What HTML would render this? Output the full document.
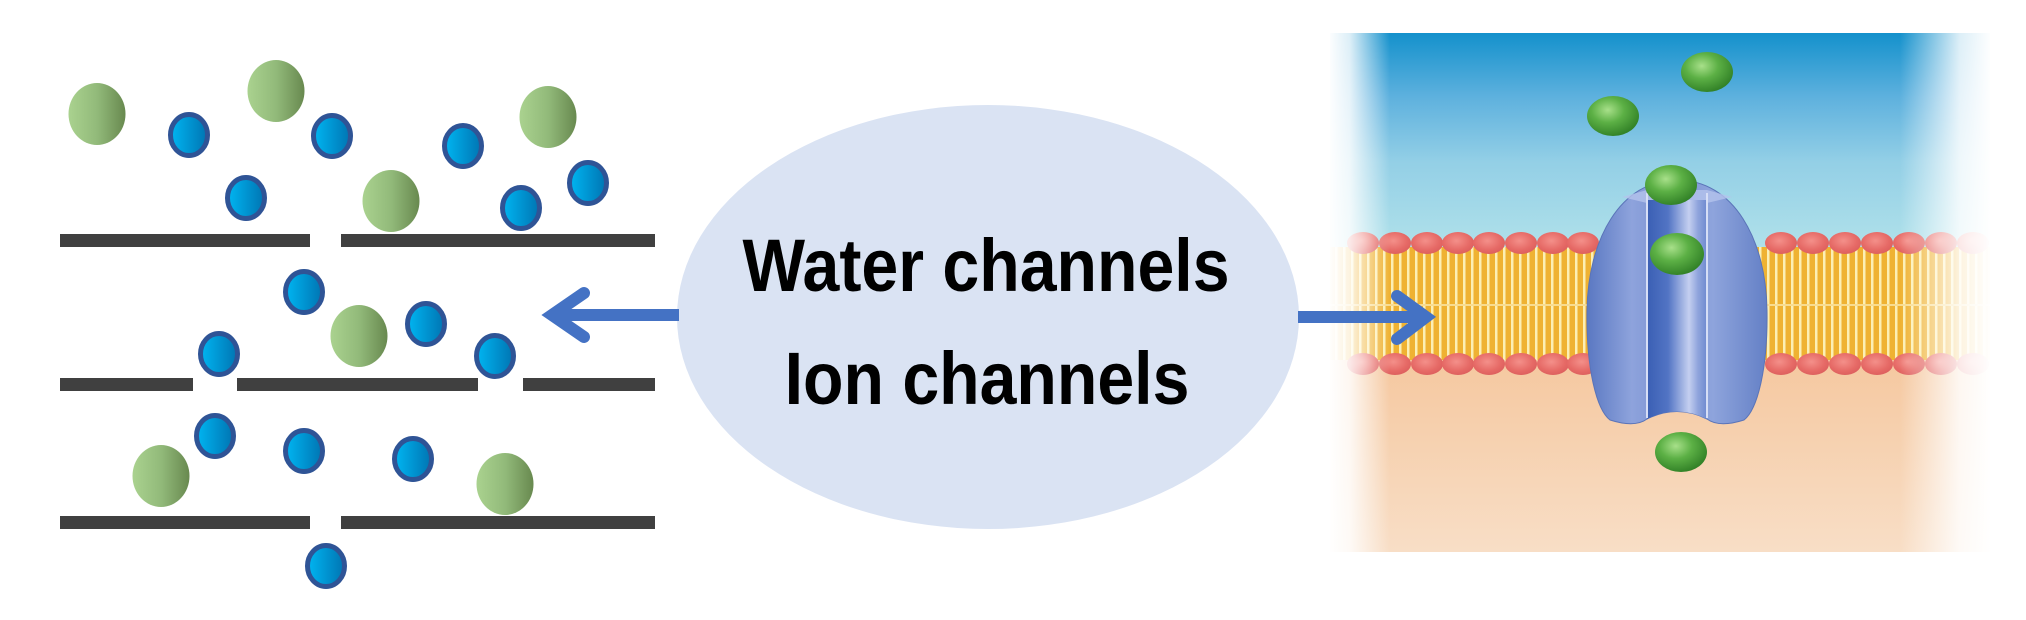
<!DOCTYPE html>
<html>
<head>
<meta charset="utf-8">
<style>
html,body{margin:0;padding:0;background:#fff;}
body{width:2026px;height:620px;overflow:hidden;}
svg{display:block;}
</style>
</head>
<body>
<svg width="2026" height="620" viewBox="0 0 2026 620" xmlns="http://www.w3.org/2000/svg">
<defs>
  <linearGradient id="gball" x1="0" y1="0" x2="1" y2="0">
    <stop offset="0" stop-color="#aad28f"/>
    <stop offset="0.5" stop-color="#92ba7a"/>
    <stop offset="1" stop-color="#68894f"/>
  </linearGradient>
  <linearGradient id="ion" x1="0" y1="0" x2="1" y2="0">
    <stop offset="0" stop-color="#00b6f2"/>
    <stop offset="1" stop-color="#0074b2"/>
  </linearGradient>
  <linearGradient id="sky" x1="0" y1="0" x2="0" y2="1">
    <stop offset="0" stop-color="#1491cc"/>
    <stop offset="0.3" stop-color="#5eb1de"/>
    <stop offset="0.6" stop-color="#93cfe6"/>
    <stop offset="1" stop-color="#b0e1ea"/>
  </linearGradient>
  <linearGradient id="peach" x1="0" y1="0" x2="0" y2="1">
    <stop offset="0" stop-color="#f5c8a0"/>
    <stop offset="1" stop-color="#f8dec6"/>
  </linearGradient>
  <radialGradient id="head" cx="0.45" cy="0.4" r="0.7">
    <stop offset="0" stop-color="#f4908a"/>
    <stop offset="0.6" stop-color="#e66a66"/>
    <stop offset="1" stop-color="#d85a5a"/>
  </radialGradient>
  <radialGradient id="rball" cx="0.4" cy="0.35" r="0.7">
    <stop offset="0" stop-color="#a8e08a"/>
    <stop offset="0.45" stop-color="#5cb045"/>
    <stop offset="1" stop-color="#2e7d24"/>
  </radialGradient>
  <linearGradient id="prot" x1="0" y1="0" x2="1" y2="0">
    <stop offset="0" stop-color="#5a78c2"/>
    <stop offset="0.25" stop-color="#8ea3dc"/>
    <stop offset="0.45" stop-color="#7890d2"/>
    <stop offset="0.7" stop-color="#8ea4dc"/>
    <stop offset="1" stop-color="#6480c6"/>
  </linearGradient>
  <linearGradient id="pore" x1="0" y1="0" x2="1" y2="0">
    <stop offset="0" stop-color="#3a5fb4"/>
    <stop offset="0.35" stop-color="#5274c4"/>
    <stop offset="0.7" stop-color="#c4cff0"/>
    <stop offset="0.85" stop-color="#8fa4dc"/>
    <stop offset="1" stop-color="#6f8ad0"/>
  </linearGradient>
  <linearGradient id="fadeL" x1="0" y1="0" x2="1" y2="0">
    <stop offset="0" stop-color="#fff" stop-opacity="1"/>
    <stop offset="0.35" stop-color="#fff" stop-opacity="0.85"/>
    <stop offset="1" stop-color="#fff" stop-opacity="0"/>
  </linearGradient>
  <linearGradient id="fadeR" x1="0" y1="0" x2="1" y2="0">
    <stop offset="0" stop-color="#fff" stop-opacity="0"/>
    <stop offset="0.65" stop-color="#fff" stop-opacity="0.85"/>
    <stop offset="1" stop-color="#fff" stop-opacity="1"/>
  </linearGradient>
  <pattern id="tails" x="1330" y="0" width="8" height="620" patternUnits="userSpaceOnUse">
    <rect x="0" y="0" width="8" height="620" fill="#efb232"/>
    <rect x="5" y="0" width="2.5" height="620" fill="#fcefb4"/>
  </pattern>
</defs>

<!-- LEFT PANEL: bars -->
<g fill="#404040">
  <rect x="60" y="234" width="250" height="13"/>
  <rect x="341" y="234" width="314" height="13"/>
  <rect x="60" y="378" width="133" height="13"/>
  <rect x="237" y="378" width="241" height="13"/>
  <rect x="523" y="378" width="132" height="13"/>
  <rect x="60" y="516" width="250" height="13"/>
  <rect x="341" y="516" width="314" height="13"/>
</g>

<!-- green balls -->
<g fill="url(#gball)">
  <ellipse cx="97" cy="114" rx="28.5" ry="31"/>
  <ellipse cx="276" cy="91" rx="28.5" ry="31"/>
  <ellipse cx="548" cy="117" rx="28.5" ry="31"/>
  <ellipse cx="391" cy="201" rx="28.5" ry="31"/>
  <ellipse cx="359" cy="336" rx="28.5" ry="31"/>
  <ellipse cx="161" cy="476" rx="28.5" ry="31"/>
  <ellipse cx="505" cy="484" rx="28.5" ry="31"/>
</g>

<!-- ions -->
<g fill="url(#ion)" stroke="#2f5496" stroke-width="5">
  <ellipse cx="189" cy="135" rx="18.5" ry="20.5"/>
  <ellipse cx="332" cy="136" rx="18.5" ry="20.5"/>
  <ellipse cx="246" cy="198" rx="18.5" ry="20.5"/>
  <ellipse cx="463" cy="146" rx="18.5" ry="20.5"/>
  <ellipse cx="521" cy="208" rx="18.5" ry="20.5"/>
  <ellipse cx="588" cy="183" rx="18.5" ry="20.5"/>
  <ellipse cx="304" cy="292" rx="18.5" ry="20.5"/>
  <ellipse cx="426" cy="324" rx="18.5" ry="20.5"/>
  <ellipse cx="219" cy="354" rx="18.5" ry="20.5"/>
  <ellipse cx="495" cy="356" rx="18.5" ry="20.5"/>
  <ellipse cx="215" cy="436" rx="18.5" ry="20.5"/>
  <ellipse cx="304" cy="451" rx="18.5" ry="20.5"/>
  <ellipse cx="413" cy="459" rx="18.5" ry="20.5"/>
  <ellipse cx="326" cy="566" rx="18.5" ry="20.5"/>
</g>

<!-- CENTER ELLIPSE -->
<ellipse cx="988" cy="317" rx="311" ry="212" fill="#dae3f3"/>
<g font-family="'Liberation Sans', Arial, sans-serif" font-weight="bold" font-size="74" fill="#000" text-anchor="middle">
  <text transform="translate(986 291) scale(0.895 1)">Water channels</text>
  <text transform="translate(987 404) scale(0.895 1)">Ion channels</text>
</g>

<!-- RIGHT PANEL -->
<rect x="1330" y="33" width="660" height="214" fill="url(#sky)"/>
<rect x="1330" y="360" width="660" height="192" fill="url(#peach)"/>
<rect x="1330" y="247" width="660" height="113" fill="url(#tails)"/>
<line x1="1330" y1="305" x2="1990" y2="305" stroke="#f8dc90" stroke-width="2"/>

<!-- heads -->
<g fill="url(#head)">
  <ellipse cx="1363" cy="243" rx="16" ry="11"/><ellipse cx="1395" cy="243" rx="16" ry="11"/>
  <ellipse cx="1427" cy="243" rx="16" ry="11"/><ellipse cx="1458" cy="243" rx="16" ry="11"/>
  <ellipse cx="1489" cy="243" rx="16" ry="11"/><ellipse cx="1521" cy="243" rx="16" ry="11"/>
  <ellipse cx="1553" cy="243" rx="16" ry="11"/><ellipse cx="1583" cy="243" rx="16" ry="11"/>
  <ellipse cx="1781" cy="243" rx="16" ry="11"/><ellipse cx="1813" cy="243" rx="16" ry="11"/>
  <ellipse cx="1845" cy="243" rx="16" ry="11"/><ellipse cx="1877" cy="243" rx="16" ry="11"/>
  <ellipse cx="1909" cy="243" rx="16" ry="11"/><ellipse cx="1941" cy="243" rx="16" ry="11"/>
  <ellipse cx="1973" cy="243" rx="16" ry="11"/>
  <ellipse cx="1363" cy="364" rx="16" ry="11"/><ellipse cx="1395" cy="364" rx="16" ry="11"/>
  <ellipse cx="1427" cy="364" rx="16" ry="11"/><ellipse cx="1458" cy="364" rx="16" ry="11"/>
  <ellipse cx="1489" cy="364" rx="16" ry="11"/><ellipse cx="1521" cy="364" rx="16" ry="11"/>
  <ellipse cx="1553" cy="364" rx="16" ry="11"/><ellipse cx="1583" cy="364" rx="16" ry="11"/>
  <ellipse cx="1781" cy="364" rx="16" ry="11"/><ellipse cx="1813" cy="364" rx="16" ry="11"/>
  <ellipse cx="1845" cy="364" rx="16" ry="11"/><ellipse cx="1877" cy="364" rx="16" ry="11"/>
  <ellipse cx="1909" cy="364" rx="16" ry="11"/><ellipse cx="1941" cy="364" rx="16" ry="11"/>
  <ellipse cx="1973" cy="364" rx="16" ry="11"/>
</g>

<!-- protein channel -->
<path d="M1677,180 C1620,180 1588,240 1587,310 C1586,370 1597,410 1610,420 Q1635,428 1647,419 Q1677,404 1707,419 Q1719,428 1744,420 C1757,410 1768,370 1767,310 C1766,240 1734,180 1677,180 Z" fill="url(#prot)" stroke="#5a74b8" stroke-width="1"/>
<path d="M1622,197 L1647,190 L1707,190 L1732,197 L1707,203 L1647,203 Z" fill="#b4c3ec" opacity="0.8"/>
<path d="M1647,200 L1707,200 L1707,419 Q1677,404 1647,419 Z" fill="url(#pore)"/>
<line x1="1647" y1="193" x2="1647" y2="418" stroke="#d6def6" stroke-width="2"/>
<line x1="1707" y1="193" x2="1707" y2="418" stroke="#d6def6" stroke-width="2"/>

<!-- right balls -->
<g fill="url(#rball)">
  <ellipse cx="1707" cy="72" rx="26" ry="20"/>
  <ellipse cx="1613" cy="116" rx="26" ry="20"/>
  <ellipse cx="1671" cy="185" rx="26" ry="20"/>
  <ellipse cx="1677" cy="254" rx="27" ry="21"/>
  <ellipse cx="1681" cy="452" rx="26" ry="20"/>
</g>

<!-- fades -->
<rect x="1328" y="33" width="62" height="519" fill="url(#fadeL)"/>
<rect x="1900" y="33" width="92" height="519" fill="url(#fadeR)"/>

<!-- ARROWS -->
<g stroke="#4472c4" fill="none">
  <line x1="552" y1="315" x2="679" y2="315" stroke-width="12"/>
  <polyline points="584,293 552,315 584,337" stroke-width="12" stroke-linecap="round" stroke-linejoin="miter" stroke-miterlimit="10"/>
  <line x1="1298" y1="317" x2="1426" y2="317" stroke-width="12"/>
  <polyline points="1397,296 1426,317 1397,339" stroke-width="12" stroke-linecap="round" stroke-linejoin="miter" stroke-miterlimit="10"/>
</g>
</svg>
</body>
</html>
